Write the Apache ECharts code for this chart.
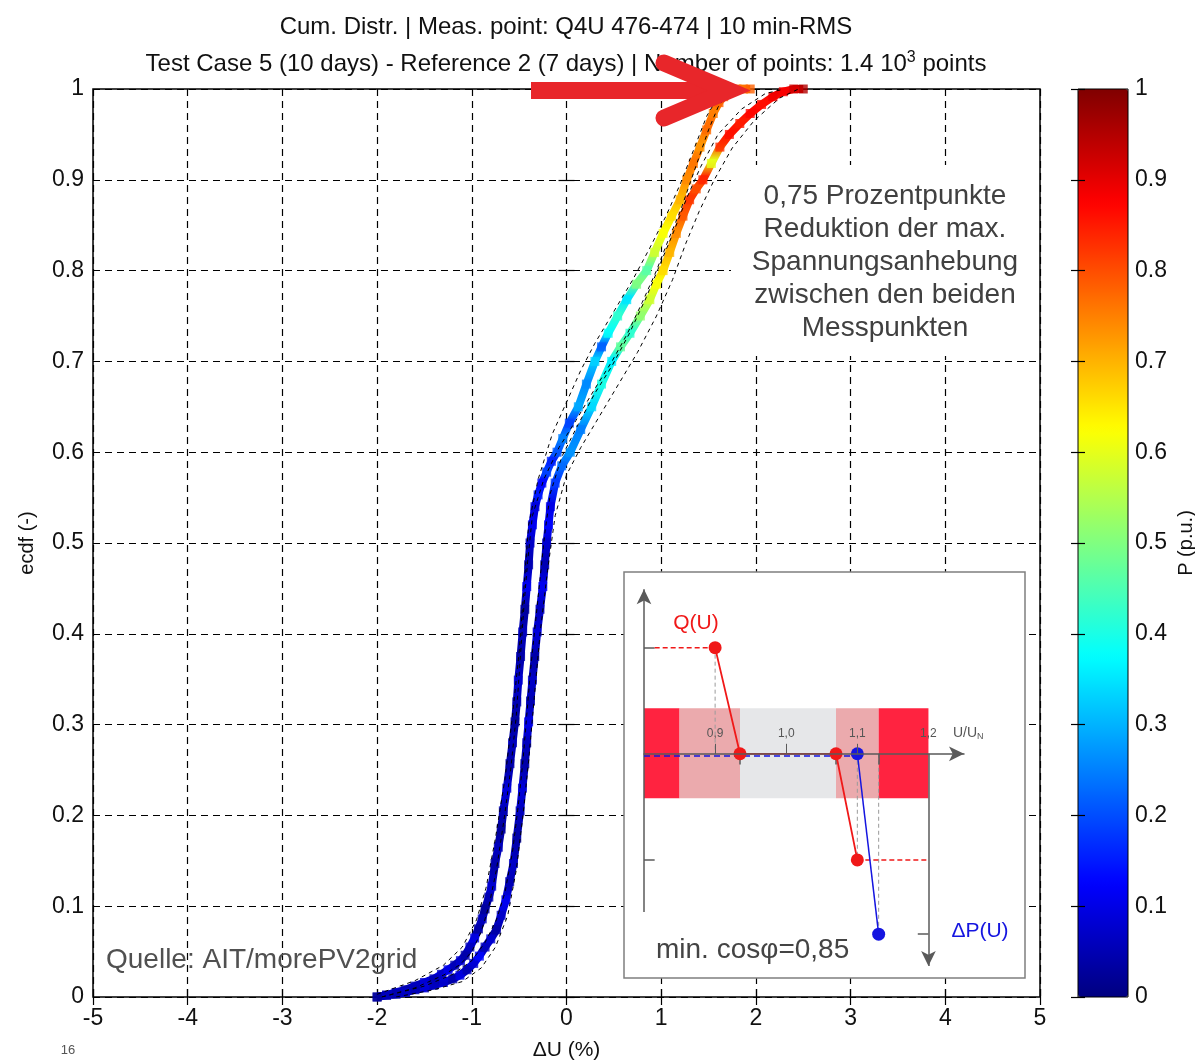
<!DOCTYPE html>
<html><head><meta charset="utf-8">
<script src="https://cdn.jsdelivr.net/npm/echarts@6/dist/echarts.min.js"></script>
<style>html,body{margin:0;padding:0;background:#fff}#c{width:1195px;height:1063px}</style>
</head><body><div id="c"></div>
<script>
// ---------- data ----------
const xTicks = [-5, 5, 1];          // min, max, step of ΔU axis
const yTicks = [0, 1, 0.1];         // min, max, step of ecdf axis
// [ΔU (%), ecdf, P (p.u.)]
const curveA = [
[-2.00,0.000,0.03],[-1.90,0.002,0.05],[-1.80,0.005,0.07],[-1.70,0.008,0.04],[-1.60,0.012,0.06],[-1.50,0.016,0.09],[-1.40,0.020,0.05],[-1.32,0.025,0.07],[-1.25,0.030,0.11],[-1.18,0.035,0.05],[-1.12,0.040,0.08],[-1.07,0.046,0.04],[-1.02,0.055,0.06],[-0.97,0.065,0.10],[-0.93,0.075,0.04],[-0.89,0.086,0.06],[-0.86,0.097,0.03],[-0.82,0.110,0.05],[-0.79,0.122,0.08],[-0.755,0.147,0.04],[-0.72,0.165,0.06],[-0.69,0.185,0.03],[-0.667,0.205,0.05],[-0.63,0.230,0.09],[-0.597,0.257,0.04],[-0.57,0.280,0.06],[-0.544,0.303,0.03],[-0.525,0.325,0.05],[-0.509,0.349,0.08],[-0.485,0.375,0.04],[-0.463,0.402,0.06],[-0.44,0.427,0.03],[-0.42,0.452,0.11],[-0.40,0.476,0.05],[-0.385,0.500,0.07],[-0.36,0.520,0.11],[-0.333,0.540,0.09],[-0.30,0.553,0.15],[-0.26,0.566,0.13],[-0.21,0.578,0.19],[-0.16,0.590,0.16],[-0.10,0.600,0.21],[-0.04,0.615,0.25],[0.03,0.632,0.19],[0.125,0.650,0.29],[0.21,0.675,0.26],[0.30,0.700,0.33],[0.37,0.716,0.22],[0.44,0.731,0.38],[0.54,0.750,0.42],[0.636,0.768,0.35],[0.74,0.785,0.50],[0.847,0.800,0.46],[0.93,0.820,0.58],[1.02,0.841,0.62],[1.11,0.860,0.66],[1.20,0.878,0.70],[1.27,0.900,0.74],[1.34,0.918,0.76],[1.41,0.936,0.73],[1.48,0.955,0.77],[1.55,0.973,0.75],[1.61,0.985,0.78],[1.66,0.9915,0.76],[1.73,0.997,0.77],[1.80,1.000,0.78],[1.87,1.000,0.76],[1.94,1.000,0.78]
];
const curveB = [
[-2.00,0.000,0.03],[-1.90,0.002,0.06],[-1.80,0.003,0.04],[-1.70,0.005,0.07],[-1.60,0.008,0.05],[-1.50,0.010,0.09],[-1.40,0.013,0.06],[-1.30,0.016,0.08],[-1.20,0.020,0.04],[-1.125,0.024,0.10],[-1.05,0.030,0.05],[-0.98,0.037,0.08],[-0.92,0.045,0.13],[-0.86,0.055,0.06],[-0.80,0.064,0.08],[-0.74,0.074,0.04],[-0.69,0.090,0.07],[-0.64,0.107,0.11],[-0.60,0.127,0.05],[-0.56,0.147,0.07],[-0.525,0.175,0.04],[-0.49,0.205,0.06],[-0.465,0.230,0.09],[-0.44,0.257,0.04],[-0.42,0.280,0.06],[-0.40,0.303,0.10],[-0.38,0.326,0.05],[-0.36,0.349,0.07],[-0.335,0.375,0.04],[-0.31,0.402,0.09],[-0.28,0.427,0.06],[-0.25,0.452,0.11],[-0.23,0.476,0.05],[-0.21,0.500,0.08],[-0.19,0.520,0.13],[-0.17,0.540,0.10],[-0.12,0.566,0.18],[-0.05,0.585,0.23],[0.04,0.600,0.27],[0.15,0.625,0.25],[0.266,0.650,0.34],[0.37,0.675,0.40],[0.477,0.700,0.36],[0.57,0.716,0.47],[0.67,0.731,0.42],[0.78,0.750,0.52],[0.88,0.768,0.58],[0.95,0.785,0.62],[1.02,0.800,0.66],[1.09,0.820,0.70],[1.16,0.841,0.74],[1.23,0.860,0.79],[1.30,0.878,0.82],[1.37,0.890,0.80],[1.44,0.900,0.84],[1.53,0.918,0.60],[1.62,0.936,0.83],[1.72,0.950,0.86],[1.83,0.962,0.85],[1.94,0.973,0.87],[2.06,0.983,0.86],[2.18,0.9915,0.89],[2.29,0.997,0.88],[2.40,1.000,0.92],[2.50,1.000,0.95]
];
// dashed confidence envelopes [ΔU, ecdf]
const envAleft = [[-2.0,0.003],[-1.6,0.018],[-1.3,0.035],[-1.1,0.055],[-0.95,0.085],[-0.85,0.12],[-0.75,0.175],[-0.65,0.24],[-0.57,0.31],[-0.50,0.38],[-0.45,0.45],[-0.40,0.52],[-0.30,0.57],[-0.15,0.62],[0.00,0.655],[0.15,0.69],[0.30,0.72],[0.50,0.755],[0.70,0.79],[0.88,0.825],[1.05,0.86],[1.20,0.895],[1.35,0.935],[1.48,0.97],[1.62,0.995],[1.70,1.0]];
const envAright = [[-1.95,0.0],[-1.6,0.01],[-1.3,0.024],[-1.12,0.036],[-1.0,0.05],[-0.9,0.072],[-0.82,0.1],[-0.74,0.14],[-0.66,0.195],[-0.59,0.25],[-0.53,0.31],[-0.49,0.37],[-0.45,0.43],[-0.41,0.48],[-0.36,0.53],[-0.24,0.57],[-0.08,0.605],[0.10,0.635],[0.30,0.67],[0.48,0.7],[0.64,0.73],[0.80,0.765],[0.95,0.8],[1.08,0.835],[1.20,0.865],[1.30,0.895],[1.40,0.925],[1.50,0.955],[1.60,0.98],[1.72,0.997],[1.85,1.0]];
const envBleft = [[-1.95,0.0],[-1.5,0.012],[-1.2,0.025],[-1.0,0.04],[-0.86,0.06],[-0.74,0.085],[-0.65,0.115],[-0.57,0.16],[-0.51,0.21],[-0.46,0.26],[-0.42,0.31],[-0.38,0.36],[-0.33,0.41],[-0.28,0.46],[-0.23,0.51],[-0.17,0.555],[-0.05,0.595],[0.12,0.63],[0.30,0.665],[0.48,0.695],[0.66,0.73],[0.84,0.77],[1.0,0.81],[1.14,0.845],[1.27,0.88],[1.42,0.915],[1.60,0.95],[1.85,0.978],[2.10,0.995],[2.30,1.0]];
const envBright = [[-1.8,0.0],[-1.4,0.008],[-1.1,0.017],[-0.9,0.032],[-0.75,0.055],[-0.62,0.09],[-0.53,0.14],[-0.46,0.2],[-0.40,0.26],[-0.34,0.33],[-0.28,0.40],[-0.20,0.47],[-0.12,0.53],[0.0,0.575],[0.15,0.605],[0.35,0.64],[0.55,0.675],[0.75,0.71],[0.95,0.75],[1.12,0.79],[1.26,0.83],[1.40,0.865],[1.56,0.90],[1.75,0.935],[1.98,0.965],[2.25,0.99],[2.45,1.0]];
// inset: Q(U) and ΔP(U) characteristics [U/UN, value]
const insetQ = [[0.9,1],[0.935,0],[1.07,0],[1.1,-1]];
const insetQext = [[0.815,1],[0.9,1],['-','-'],[1.1,-1],[1.2,-1]];
const insetP = [[1.1,0],[1.13,-1.7]];
const insetPdash = [[0.8,-0.02],[1.1,-0.02]];
const insetGuides = [[0.9,1],[0.9,0],['-','-'],[1.1,0],[1.1,-1],['-','-'],[1.13,0],[1.13,-1.7]];
const bandEdges = [0.8,0.85,0.935,1.07,1.13,1.2];
const bandLevels = ['hi','mid','lo','mid','hi'];
const bandHalf = [0.43,-0.42];
const insetTickVals = [0.9,1.0,1.1];
const insetLabelVals = [0.9,1.0,1.1,1.2];
const cbarTicks = [0, 1, 0.1];

// ---------- helpers ----------
function clamp(v){return Math.max(0,Math.min(1,v));}
function jet(v){
  const r=clamp(1.5-Math.abs(4*v-3)), g=clamp(1.5-Math.abs(4*v-2)), b=clamp(1.5-Math.abs(4*v-1));
  return 'rgb('+Math.round(r*255)+','+Math.round(g*255)+','+Math.round(b*255)+')';
}
const jetStops=[0,1,2,3,4,5,6,7,8].map(i=>jet(i/8));
function gradFor(curve){
  const stops=curve.map(d=>({offset:1-d[1],color:jet(d[2])})).sort((a,b)=>a.offset-b.offset);
  return new echarts.graphic.LinearGradient(0,0,0,1,stops);
}
const FONT='Liberation Sans, Arial, sans-serif';
const fmt1=v=> (v===0?'0':(v===1?'1':v.toFixed(1)));
const bandColor={hi:'#FF2340',mid:'#EBAAAD',lo:'#E6E7E9'};
const bandAreas=bandLevels.map((lv,i)=>[{xAxis:bandEdges[i],yAxis:bandHalf[0],itemStyle:{color:bandColor[lv]}},{xAxis:bandEdges[i+1],yAxis:bandHalf[1]}]);
const envStyle={width:1,color:'#000',type:[4,4]};
function envSeries(d){return {type:'line',xAxisIndex:0,yAxisIndex:0,data:d,showSymbol:false,z:5,silent:true,lineStyle:envStyle};}

const chart=echarts.init(document.getElementById('c'),null,{renderer:'canvas'});
const option={
  animation:false,
  backgroundColor:'#fff',
  textStyle:{fontFamily:FONT},
  title:[
    {text:'Cum. Distr. | Meas. point: Q4U 476-474 | 10 min-RMS',left:561,top:10,textAlign:'center',
     textStyle:{fontSize:24,fontWeight:'normal',color:'#111',fontFamily:FONT}},
    {text:'Test Case 5 (10 days) - Reference 2 (7 days) | Number of points: 1.4 10{s|3} points',left:561,top:45,textAlign:'center',
     textStyle:{fontSize:24,fontWeight:'normal',color:'#111',fontFamily:FONT,rich:{s:{fontSize:16,verticalAlign:'top',padding:[0,0,12,0],color:'#111',fontFamily:FONT}}}}
  ],
  grid:[
    {left:93,top:89,width:947,height:908,show:true,borderColor:'#000',borderWidth:1.5,backgroundColor:'#fff',outerBoundsMode:'none',containLabel:false},
    {left:644,top:584,width:320,height:382,z:60,outerBoundsMode:'none',containLabel:false},
    {left:1078,top:89,width:50,height:908,show:true,borderColor:'#000',borderWidth:1,z:5,outerBoundsMode:'none',containLabel:false}
  ],
  visualMap:{type:'continuous',min:0,max:1,dimension:2,seriesIndex:[0,1],inRange:{color:jetStops},
    left:1078,top:89,itemWidth:50,itemHeight:908,calculable:false,text:null,showLabel:false,padding:0,z:1,hoverLink:false},
  xAxis:[
    {gridIndex:0,type:'value',min:xTicks[0],max:xTicks[1],interval:xTicks[2],position:'bottom',
     name:'ΔU (%)',nameLocation:'middle',nameGap:43,nameTextStyle:{fontSize:21,color:'#111'},
     axisLine:{show:false},axisTick:{inside:true,length:8,lineStyle:{color:'#000',width:1.2}},
     axisLabel:{fontSize:23,color:'#111',margin:10},
     splitLine:{show:true,lineStyle:{color:'#000',type:[7,5],width:1.2}}},
    {gridIndex:0,type:'value',min:xTicks[0],max:xTicks[1],interval:xTicks[2],position:'top',
     axisLine:{show:false},axisTick:{inside:true,length:8,lineStyle:{color:'#000',width:1.2}},axisLabel:{show:false},splitLine:{show:false}},
    {gridIndex:1,type:'value',min:0.8,max:1.25,z:60,offset:-212.2,
     axisLine:{onZero:false,symbol:['none','arrow'],symbolSize:[11,15],lineStyle:{color:'#5a5a5a',width:1.5}},
     axisTick:{inside:true,length:10,customValues:insetTickVals,lineStyle:{color:'#5a5a5a',width:1}},
     axisLabel:{inside:true,customValues:insetLabelVals,margin:14,fontSize:12,color:'#555',formatter:v=>v.toFixed(1).replace('.',',')},
     splitLine:{show:false}},
    {gridIndex:2,type:'value',show:false,min:0,max:1}
  ],
  yAxis:[
    {gridIndex:0,type:'value',min:yTicks[0],max:yTicks[1],interval:yTicks[2],
     name:'ecdf (-)',nameLocation:'middle',nameGap:56,nameRotate:90,nameTextStyle:{fontSize:20,color:'#111'},
     axisLine:{show:false},axisTick:{inside:true,length:8,lineStyle:{color:'#000',width:1.2}},
     axisLabel:{fontSize:23,color:'#111',margin:9,formatter:fmt1},
     splitLine:{show:true,lineStyle:{color:'#000',type:[7,5],width:1.2}}},
    {gridIndex:0,type:'value',min:yTicks[0],max:yTicks[1],interval:yTicks[2],position:'right',
     axisLine:{show:false},axisTick:{inside:true,length:8,lineStyle:{color:'#000',width:1.2}},axisLabel:{show:false},splitLine:{show:false}},
    {gridIndex:1,type:'value',min:-2.0,max:1.6,show:false},
    {gridIndex:2,type:'value',min:cbarTicks[0],max:cbarTicks[1],interval:cbarTicks[2],position:'right',z:6,
     name:'P (p.u.)',nameLocation:'middle',nameGap:48,nameRotate:90,nameTextStyle:{fontSize:20,color:'#111'},
     axisLine:{show:false},axisTick:{inside:true,length:7,lineStyle:{color:'#000',width:1.2}},
     axisLabel:{fontSize:23,color:'#111',margin:7,formatter:fmt1},splitLine:{show:false}},
    {gridIndex:2,type:'value',min:cbarTicks[0],max:cbarTicks[1],interval:cbarTicks[2],position:'left',z:6,
     axisLine:{show:false},axisTick:{inside:true,length:7,lineStyle:{color:'#000',width:1.2}},axisLabel:{show:false},splitLine:{show:false}}
  ],
  series:[
    {type:'scatter',name:'A',xAxisIndex:0,yAxisIndex:0,data:curveA,symbol:'rect',symbolSize:9,z:4,silent:true},
    {type:'scatter',name:'B',xAxisIndex:0,yAxisIndex:0,data:curveB,symbol:'rect',symbolSize:9,z:4,silent:true},
    {type:'line',xAxisIndex:0,yAxisIndex:0,data:curveA.map(d=>[d[0],d[1]]),showSymbol:false,z:3,silent:true,
     lineStyle:{width:8,color:gradFor(curveA)}},
    {type:'line',xAxisIndex:0,yAxisIndex:0,data:curveB.map(d=>[d[0],d[1]]),showSymbol:false,z:3,silent:true,
     lineStyle:{width:8,color:gradFor(curveB)}},
    envSeries(envAleft),envSeries(envAright),envSeries(envBleft),envSeries(envBright),
    // inset
    {type:'line',xAxisIndex:2,yAxisIndex:2,data:[[bandEdges[0],0]],showSymbol:false,z:55,silent:true,lineStyle:{width:0},
     markArea:{silent:true,z:55,data:bandAreas}},
    {type:'line',xAxisIndex:2,yAxisIndex:2,data:insetGuides,showSymbol:false,z:56,silent:true,connectNulls:false,
     lineStyle:{width:1,color:'#9a9a9a',type:[4,3]}},
    {type:'line',xAxisIndex:2,yAxisIndex:2,data:[[bandEdges[0],0]],showSymbol:false,z:57,silent:true,lineStyle:{width:0},
     markLine:{silent:true,z:57,symbol:['none','arrow'],symbolSize:[11,15],label:{show:false},lineStyle:{color:'#5a5a5a',width:1.5,type:'solid'},
       data:[
         [{coord:[0.8,-1.49]},{coord:[0.8,1.55]}],
         [{coord:[1.2,0]},{coord:[1.2,-2.0]}],
         [{coord:[0.8,1],symbol:'none'},{coord:[0.815,1],symbol:'none'}],
         [{coord:[0.8,-1],symbol:'none'},{coord:[0.815,-1],symbol:'none'}],
         [{coord:[1.185,-1.7],symbol:'none'},{coord:[1.2,-1.7],symbol:'none'}],
         [{coord:[0.935,0],symbol:'none'},{coord:[0.935,-0.1],symbol:'none'}],
         [{coord:[1.07,0],symbol:'none'},{coord:[1.07,-0.1],symbol:'none'}],
         [{coord:[1.13,0],symbol:'none'},{coord:[1.13,-0.1],symbol:'none'}]
       ]}},
    {type:'line',xAxisIndex:2,yAxisIndex:2,data:insetQext,showSymbol:false,z:58,silent:true,connectNulls:false,
     lineStyle:{width:1.5,color:'#F01818',type:[5,3]}},
    {type:'line',xAxisIndex:2,yAxisIndex:2,data:insetPdash,showSymbol:false,z:58,silent:true,
     lineStyle:{width:1.5,color:'#1515E0',type:[6,4]}},
    {type:'line',xAxisIndex:2,yAxisIndex:2,data:insetQ,symbol:'circle',symbolSize:13,z:59,silent:true,
     itemStyle:{color:'#F01818'},lineStyle:{width:1.8,color:'#F01818'}},
    {type:'line',xAxisIndex:2,yAxisIndex:2,data:insetP,symbol:'circle',symbolSize:13,z:59,silent:true,
     itemStyle:{color:'#1515E0'},lineStyle:{width:1.5,color:'#1515E0'}}
  ],
  graphic:[
    {type:'rect',z:50,shape:{x:731,y:165,width:308,height:191},style:{fill:'#fff'}},
    {type:'text',z:51,x:885,y:180,style:{text:'0,75 Prozentpunkte\nReduktion der max.\nSpannungsanhebung\nzwischen den beiden\nMesspunkten',
      fill:'#404040',font:'28px '+FONT,textAlign:'center',lineHeight:33}},
    {type:'rect',z:50,shape:{x:624,y:572,width:401,height:406},style:{fill:'#fff',stroke:'#7f7f7f',lineWidth:1.5}},
    {type:'text',z:70,x:696,y:623,style:{text:'Q(U)',fill:'#F01818',font:'21px '+FONT,textAlign:'center',textVerticalAlign:'middle'}},
    {type:'text',z:70,x:980,y:931,style:{text:'ΔP(U)',fill:'#1515E0',font:'21px '+FONT,textAlign:'center',textVerticalAlign:'middle'}},
    {type:'text',z:70,x:656,y:950,style:{text:'min. cosφ=0,85',fill:'#444',font:'28px '+FONT,textAlign:'left',textVerticalAlign:'middle'}},
    {type:'text',z:70,x:953,y:733,style:{text:'U/U{n|N}',fill:'#555',font:'14px '+FONT,textVerticalAlign:'middle',
      rich:{n:{fontSize:9,verticalAlign:'bottom',padding:[7,0,0,0],fill:'#555'}}}},
    {type:'text',z:70,x:106,y:960,style:{text:'Quelle: AIT/morePV2grid',fill:'#505050',font:'28px '+FONT,textAlign:'left',textVerticalAlign:'middle'}},
    {type:'text',z:70,x:68,y:1050,style:{text:'16',fill:'#555',font:'13px '+FONT,textAlign:'center',textVerticalAlign:'middle'}},
    // red arrow annotation
    {type:'rect',z:80,shape:{x:531,y:82,width:186,height:17},style:{fill:'#E8262A'}},
    {type:'polyline',z:80,shape:{points:[[664,63],[729,90.5],[664,118]]},style:{stroke:'#E8262A',lineWidth:17,lineCap:'round',lineJoin:'miter',fill:null}}
  ]
};
chart.setOption(option);
</script></body></html>
